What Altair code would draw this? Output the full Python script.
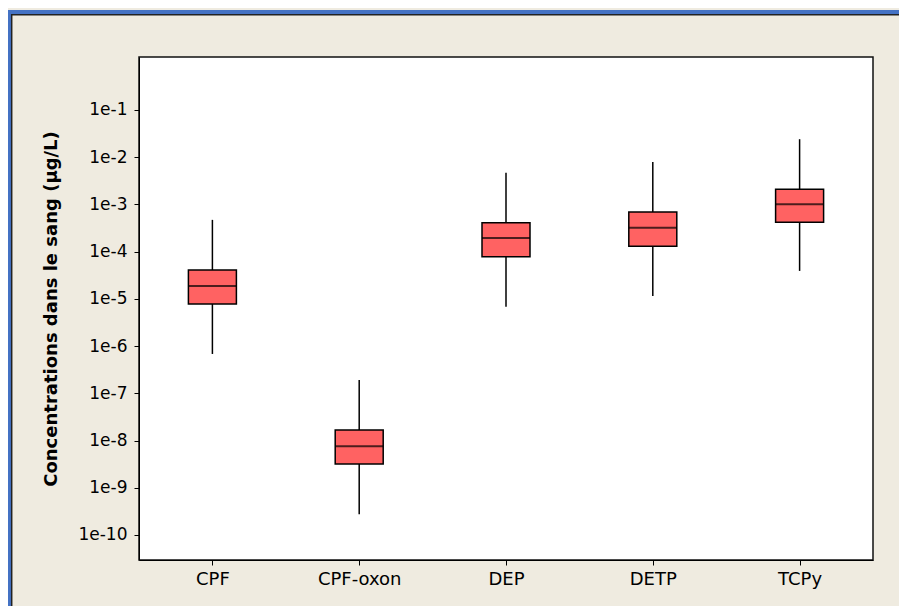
import altair as alt
import pandas as pd

categories = ["CPF", "CPF-oxon", "DEP", "DETP", "TCPy"]
whisker_low = [6.8e-7, 2.75e-10, 6.8e-6, 1.15e-5, 3.9e-5]
q1 = [7.8e-6, 3.2e-9, 7.8e-5, 1.3e-4, 4.2e-4]
median = [1.86e-5, 7.6e-9, 1.95e-4, 3.2e-4, 1.0e-3]
q3 = [4.1e-5, 1.66e-8, 4.1e-4, 6.9e-4, 2.1e-3]
whisker_high = [4.7e-4, 1.9e-7, 4.7e-3, 7.9e-3, 2.4e-2]
tick_values = [1e-1, 1e-2, 1e-3, 1e-4, 1e-5, 1e-6, 1e-7, 1e-8, 1e-9, 1e-10]

df = pd.DataFrame({
    "cat": categories,
    "low": whisker_low,
    "q1": q1,
    "med": median,
    "q3": q3,
    "high": whisker_high,
})

FONT = "DejaVu Sans"
xenc = alt.X("cat:N", sort=categories, title=None,
             scale=alt.Scale(type="point", padding=0.5),
             axis=alt.Axis(labelAngle=0, labelFontSize=18, labelFont=FONT,
                           labelColor="#000", tickColor="#000", tickSize=5,
                           domainColor="#000", labelPadding=5))
yscale = alt.Scale(type="log", domain=[2.95e-11, 1.32], nice=False)
yaxis = alt.Axis(values=tick_values, labelExpr="'1e' + round(log(datum.value)/LN10)",
                 grid=False, labelFontSize=17, labelFont=FONT, labelColor="#000",
                 tickColor="#000", tickSize=5, domainColor="#000", labelPadding=7,
                 title="Concentrations dans le sang (µg/L)", titleFont=FONT,
                 titleFontSize=18, titleFontWeight="bold", titleColor="#000",
                 titlePadding=17)

base = alt.Chart(df)
whisk = base.mark_rule(color="#000", strokeWidth=1.5).encode(
    x=xenc,
    y=alt.Y("low:Q", scale=yscale, axis=yaxis),
    y2="high:Q",
)
box = base.mark_bar(size=48, fill="#FF6262", stroke="#000", strokeWidth=1.5).encode(
    x=xenc, y=alt.Y("q1:Q", scale=yscale), y2="q3:Q"
)
med = base.mark_tick(size=48, thickness=2, color="#000").encode(
    x=xenc, y=alt.Y("med:Q", scale=yscale)
)

frame_df = pd.DataFrame({"k": [0]})
frame = alt.Chart(frame_df)
blue_top = frame.mark_rule(color="#4472C4", strokeWidth=4, clip=False).encode(
    x=alt.value(-132), x2=alt.value(780), y=alt.value(-45))
blue_left = frame.mark_rule(color="#4472C4", strokeWidth=4, clip=False).encode(
    x=alt.value(-130), y=alt.value(-47), y2=alt.value(560))
dark_top = frame.mark_rule(color="#222", strokeWidth=1.5, clip=False).encode(
    x=alt.value(-128), x2=alt.value(780), y=alt.value(-42.3))
dark_left = frame.mark_rule(color="#222", strokeWidth=1.5, clip=False).encode(
    x=alt.value(-127.3), y=alt.value(-43), y2=alt.value(560))

chart = alt.layer(blue_top, blue_left, dark_top, dark_left, whisk, box, med).properties(
    width=734, height=503,
    background="#EFEBE0",
    padding={"left": 131, "top": 49, "right": 26, "bottom": 46},
    autosize=alt.AutoSizeParams(type="none"),
).configure_view(
    fill="#FFFFFF", stroke="#111", strokeWidth=1.5
)

chart.save("out.html", embed_options={"renderer": "svg", "actions": False})
